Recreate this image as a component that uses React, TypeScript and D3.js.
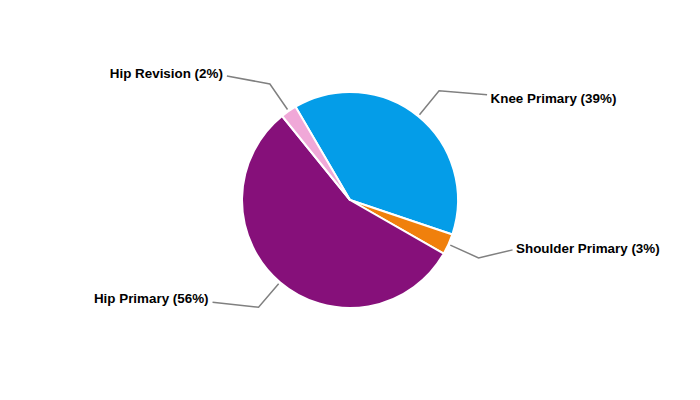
import React from "react";
import * as d3 from "d3";

const categories = ["Knee Primary", "Shoulder Primary", "Hip Primary", "Hip Revision"];
const values = [38.6, 3.1, 55.9, 2.4];
const colors = ["#049DE8", "#F0800C", "#86107A", "#F0A8D8"];
// layout nudges for label line ends (dx, dy) relative to elbow, and text vertical offsets
const labelNudge: [number, number][] = [[48, 4], [34, -8], [-46, -5], [-43, -8]];
const textDy = [4, -2, -4, -3];

const W = 700, H = 400;
const cx = 350, cy = 200, R = 108;
const startDeg = -30.3;

export default function App() {
  const total = d3.sum(values);
  const pie = d3.pie<number>().sort(null).value(d => d)
    .startAngle(startDeg * Math.PI / 180)
    .endAngle((startDeg + 360) * Math.PI / 180);
  const arcs = pie(values);
  const arc = d3.arc<d3.PieArcDatum<number>>().innerRadius(0).outerRadius(R);
  const pt = (a: number, r: number) => [cx + r * Math.sin(a), cy - r * Math.cos(a)];
  return (
    <svg width={W} height={H} style={{ position: "absolute", left: 0, top: 0 }}>
      <rect width={W} height={H} fill="#fff" />
      <g transform={`translate(${cx},${cy})`}>
        {arcs.map((a, i) => (
          <path key={i} d={arc(a) || ""} fill={colors[i]} stroke="#fff" strokeWidth={2} strokeLinejoin="round" />
        ))}
      </g>
      {arcs.map((a, i) => {
        const mid = (a.startAngle + a.endAngle) / 2;
        const p0 = pt(mid, 110);
        const p1 = pt(mid, 141);
        const right = Math.sin(mid) > 0;
        const p2 = [p1[0] + labelNudge[i][0], p1[1] + labelNudge[i][1]];
        const pct = Math.round((values[i] / total) * 100);
        return (
          <g key={i}>
            <polyline points={`${p0[0]},${p0[1]} ${p1[0]},${p1[1]} ${p2[0]},${p2[1]}`} fill="none" stroke="#808080" strokeWidth={1.5} />
            <text x={p2[0] + (right ? 3.5 : -4)} y={p2[1] + textDy[i]} dy="0.35em" textAnchor={right ? "start" : "end"}
              fontFamily="Liberation Sans, Arial, sans-serif" fontWeight="bold" fontSize={13.4} fill="#000">
              {`${categories[i]} (${pct}%)`}
            </text>
          </g>
        );
      })}
    </svg>
  );
}
